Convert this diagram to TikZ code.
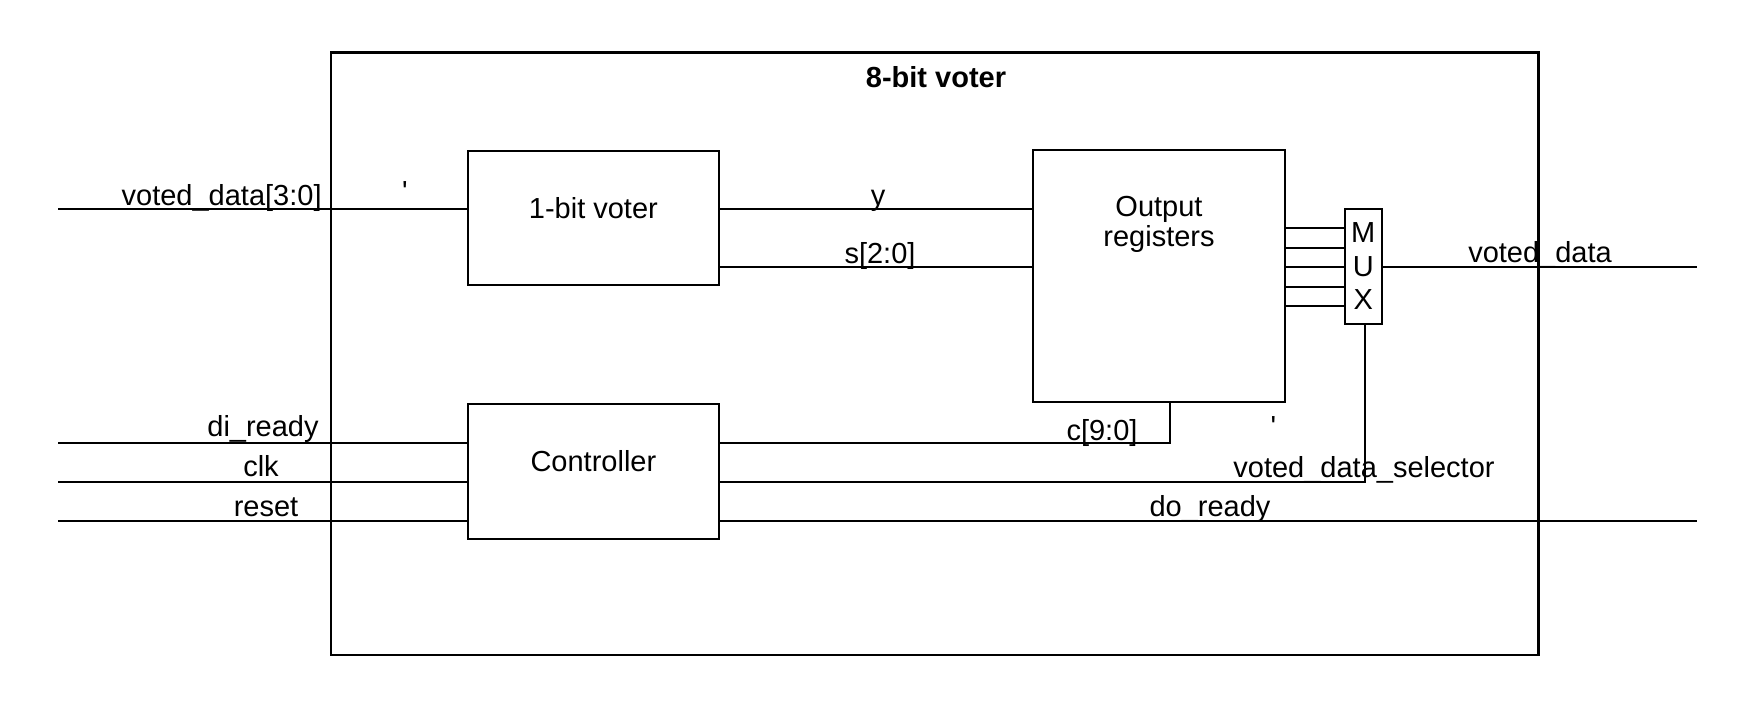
\documentclass[tikz,border=0pt]{standalone}
\usepackage{fontspec}
\newfontfamily\lab{Liberation Sans}
\begin{document}
\begin{tikzpicture}[x=0.5pt,y=-0.5pt,
  wire/.style={line width=1pt},
  blk/.style={draw, line width=1pt, inner sep=0pt, outer sep=0pt},
  txt/.style={font={\lab\fontsize{14.5}{15}\selectfont}},
  lbl/.style={txt, anchor=base, inner sep=0pt}]
\useasboundingbox (0,0) rectangle (1742,708);
% outer box
\node[blk, line width=1.3pt, minimum width=603.75pt, minimum height=301.25pt] (outer) at (934.75,353.75) {};
\node[lbl, font={\lab\bfseries\fontsize{14.5}{15}\selectfont}] (title) at (936,87) {8-bit voter};
% blocks
\node[blk, txt, minimum width=125.6pt, minimum height=67pt, text height=6pt, text depth=6pt] (voter1) at (593.4,218) {1-bit voter};
\node[blk, txt, minimum width=125.6pt, minimum height=67.35pt, text height=6pt, text depth=6pt] (ctrl) at (593.4,471.35) {Controller};
\node[blk, minimum width=126pt, minimum height=126pt] (outreg) at (1159,276) {};
\node[txt, anchor=north, inner sep=0pt, align=center] (ortext) at (1159,196) {Output\\registers};
\node[blk, minimum width=18.75pt, minimum height=57.65pt, align=center, font={\lab\fontsize{14.5}{16.75}\selectfont}] (mux) at (1363.25,266.35) {M\\U\\X};
% free ends
\coordinate (in1) at (58,209);
\coordinate (in2) at (58,442.7);
\coordinate (in3) at (58,482);
\coordinate (in4) at (58,521.3);
\coordinate (outA) at (1697,267);
\coordinate (outB) at (1697,521.3);
\coordinate (cbend) at (1170,442.7);
\coordinate (sbend) at (1364.5,482);
% wires
\draw[wire] (in1) -- (in1 -| voter1.west);
\draw[wire] (voter1.east |- in1) -- (outreg.west |- in1);
\draw[wire] (voter1.east |- outA) -- (outreg.west |- outA);
\foreach \yy in {228.3,247.7,267,286.7,306.3}
  \draw[wire] (outreg.east |- 0,\yy) -- (mux.west |- 0,\yy);
\draw[wire] (mux.east |- outA) -- (outA);
\draw[wire] (in2) -- (in2 -| ctrl.west);
\draw[wire] (in3) -- (in3 -| ctrl.west);
\draw[wire] (in4) -- (in4 -| ctrl.west);
\draw[wire] (ctrl.east |- cbend) -- (cbend) -- (cbend |- outreg.south);
\draw[wire] (ctrl.east |- sbend) -- (sbend) -- (sbend |- mux.south);
\draw[wire] (ctrl.east |- outB) -- (outB);
% labels
\node[lbl, anchor=base east] (l1) at (322,205) {voted\_data[3:0]};
\node[lbl] (t1) at (405,201) {'};
\node[lbl] (ly) at (878,205) {y};
\node[lbl] (ls) at (880,263) {s[2:0]};
\node[lbl] (ldi) at (263,436.7) {di\_ready};
\node[lbl] (lclk) at (261,476.7) {clk};
\node[lbl] (lrst) at (266,516) {reset};
\node[lbl] (lc) at (1102,440) {c[9:0]};
\node[lbl] (t2) at (1273.5,436) {'};
\node[lbl] (lsel) at (1364,477) {voted\_data\_selector};
\node[lbl] (ldo) at (1210,516.7) {do\_ready};
\node[lbl] (lvd) at (1540,262) {voted\_data};
\end{tikzpicture}
\end{document}
